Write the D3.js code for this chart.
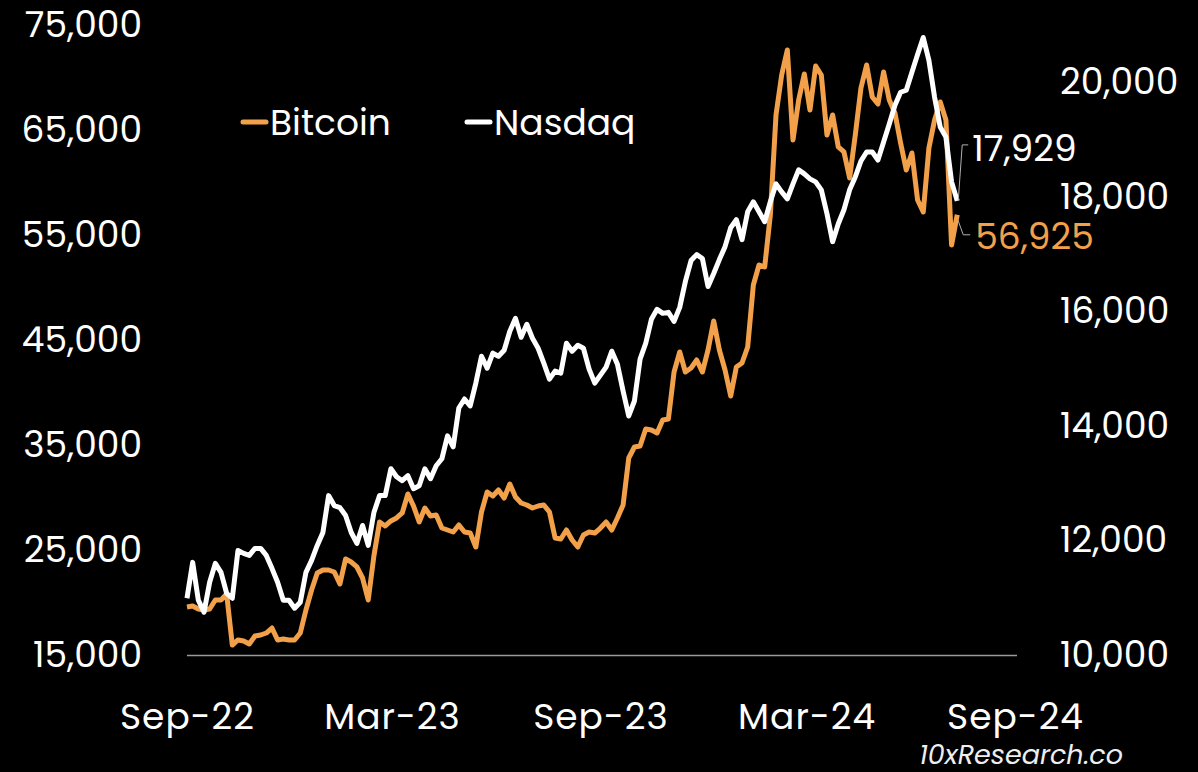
<!DOCTYPE html>
<html>
<head>
<meta charset="utf-8">
<script src="https://cdn.jsdelivr.net/npm/d3@7"></script>
<style>
html,body{margin:0;padding:0;background:#000;}
svg{display:block;}
text{font-family:'Poppins','Open Sans',sans-serif;fill:#fff;}
.tick text{font-size:36px;}
.x .tick text{letter-spacing:1px;}
</style>
</head>
<body>
<svg id="chart" width="1198" height="772"></svg>
<script>
'use strict';

// values, one point every 5 days from 1 Sep 2022
var btc=[
    19571,19667,19381,19286,19381,20238,20238,20810,15952,16429
  , 16333,16048,16810,16905,17095,17571,16429,16524,16429,16429
  , 17095,19286,21190,22810,23095,23095,22905,21762,24143,23857
  , 23381,22333,20238,24429,27667,27286,27762,28048,28524,30333
  , 29190,27667,29000,28238,28333,27095,26905,26714,27381,26714
  , 26619,25286,28619,30524,30143,30714,29952,31286,30048,29476
  , 29286,29000,29190,29286,28619,26143,26048,26905,25952,25286
  , 26429,26714,26619,27095,27667,26905,28048,29286,33762,34810
  , 34905,36524,36429,36143,37381,37476,41952,43857,41952,42333
  , 43095,41952,44048,46810,44048,42143,39667,42429,42810,44333
  , 50238,52143,51952,56905,66429,70238,72619,64048,67857,70333
  , 66905,71095,70238,64524,66429,63381,62905,60429,64524,69000
  , 71190,68143,67476,70524,67857,66619,63762,61190,62810,58333
  , 57190,63286,65952,67667,65952,54048,56925
];

var ndx=[
    10991,11617,10957,10748,11270,11600,11443,11078,10991,11826
  , 11774,11739,11861,11861,11739,11513,11270,10957,10957,10817
  , 10922,11443,11652,11913,12139,12783,12609,12574,12435,12139
  , 11948,12261,11913,12487,12783,12783,13252,13113,13043,13130
  , 12904,12956,13252,13078,13304,13426,13826,13635,14313,14470
  , 14348,14748,15217,15009,15270,15217,15322,15652,15878,15548
  , 15774,15530,15356,15096,14817,14956,14922,15443,15304,15409
  , 15356,14991,14748,14887,15026,15304,15078,14609,14174,14435
  , 15165,15443,15861,16035,15965,15983,15826,16070,16522,16887
  , 16991,16922,16435,16661,16904,17130,17461,17600,17252,17739
  , 17913,17739,17565,17913,18226,18087,17965,18226,18470,18400
  , 18313,18261,18122,17704,17217,17530,17774,18122,18348,18626
  , 18783,18783,18643,18956,19270,19600,19826,19861,20174,20487
  , 20782,20383,19739,19217,19043,18261,17929
];

var start=new Date(2022,8,1)
  , step=5
  , xTicks=[new Date(2022,8,1),new Date(2023,2,1),new Date(2023,8,1),new Date(2024,2,1),new Date(2024,8,1)]
  , leftTicks=[15000,25000,35000,45000,55000,65000,75000]
  , rightTicks=[10000,12000,14000,16000,18000,20000]
  , series=['Bitcoin','Nasdaq']
  , orange='#f2a14a'

var dates=btc.map(function(d,i){return d3.timeDay.offset(start,i*step);});

var svg=d3.select('#chart');

var x=d3.scaleTime().domain([xTicks[0],xTicks[xTicks.length-1]]).range([187,1015])
  , yL=d3.scaleLinear().domain([15000,75000]).range([655,25])
  , yR=d3.scaleLinear().domain([10000,21000]).range([655,25])

// axes
svg.append('g')
    .attr('class','x')
    .attr('transform','translate(0,655)')
    .call(d3.axisBottom(x).tickValues(xTicks).tickFormat(d3.timeFormat('%b-%y')).tickSize(0).tickSizeOuter(0).tickPadding(48))
    .call(function(g){g.select('.domain').attr('stroke','#9a9a9a').attr('stroke-width',1.5).attr('d','M187,0.5H1017');});

svg.append('g')
    .attr('transform','translate(150,0)')
    .call(d3.axisLeft(yL).tickValues(leftTicks).tickFormat(d3.format(',')).tickSize(0).tickPadding(8))
    .call(function(g){g.select('.domain').remove();});

svg.append('g')
    .attr('transform','translate(1052,0)')
    .call(d3.axisRight(yR).tickValues(rightTicks).tickFormat(d3.format(',')).tickSize(0).tickPadding(8))
    .call(function(g){g.select('.domain').remove();});

// lines
var lineL=d3.line().x(function(d,i){return x(dates[i]);}).y(function(d){return yL(d);})
  , lineR=d3.line().x(function(d,i){return x(dates[i]);}).y(function(d){return yR(d);})

svg.append('path')
    .datum(btc)
    .attr('d',lineL)
    .attr('fill','none')
    .attr('stroke',orange)
    .attr('stroke-width',5)
    .attr('stroke-linejoin','round');

svg.append('path')
    .datum(ndx)
    .attr('d',lineR)
    .attr('fill','none')
    .attr('stroke','#fff')
    .attr('stroke-width',5)
    .attr('stroke-linejoin','round');

// legend
var legend=svg.append('g').attr('transform','translate(241,122)');
[[0,orange],[224,'#fff']].forEach(function(p,i){
    legend.append('line')
        .attr('x1',p[0]+2).attr('x2',p[0]+25)
        .attr('y1',0).attr('y2',0)
        .attr('stroke',p[1])
        .attr('stroke-width',5)
        .attr('stroke-linecap','round');
    legend.append('text')
        .attr('x',p[0]+29)
        .attr('y',0)
        .attr('dy','0.35em')
        .attr('font-size',36)
        .text(series[i]);
});

// end labels
var last=btc.length-1
  , ex=x(dates[last])
  , eyN=yR(ndx[last])
  , eyB=yL(btc[last])

svg.append('path')
    .attr('d','M'+(ex+1)+','+eyN+'L'+(ex+5)+','+(eyN-56)+'H'+(ex+11))
    .attr('fill','none')
    .attr('stroke','#b0b0b0')
    .attr('stroke-width',1);
svg.append('text')
    .attr('x',ex+15)
    .attr('y',eyN-52)
    .attr('dy','0.35em')
    .attr('font-size',36)
    .text(d3.format(',')(ndx[last]));

svg.append('path')
    .attr('d','M'+(ex+1)+','+(eyB+6)+'L'+(ex+6)+','+(eyB+20)+'H'+(ex+13))
    .attr('fill','none')
    .attr('stroke','#b0b0b0')
    .attr('stroke-width',1);
svg.append('text')
    .attr('x',ex+18)
    .attr('y',eyB+22)
    .attr('dy','0.35em')
    .attr('font-size',36)
    .style('fill',orange)
    .text(d3.format(',')(btc[last]));

// watermark
svg.append('text')
    .attr('x',1123)
    .attr('y',764)
    .attr('text-anchor','end')
    .attr('font-size',27)
    .attr('font-style','italic')
    .style('fill','#eee')
    .text('10xResearch.co');
</script>
</body>
</html>
